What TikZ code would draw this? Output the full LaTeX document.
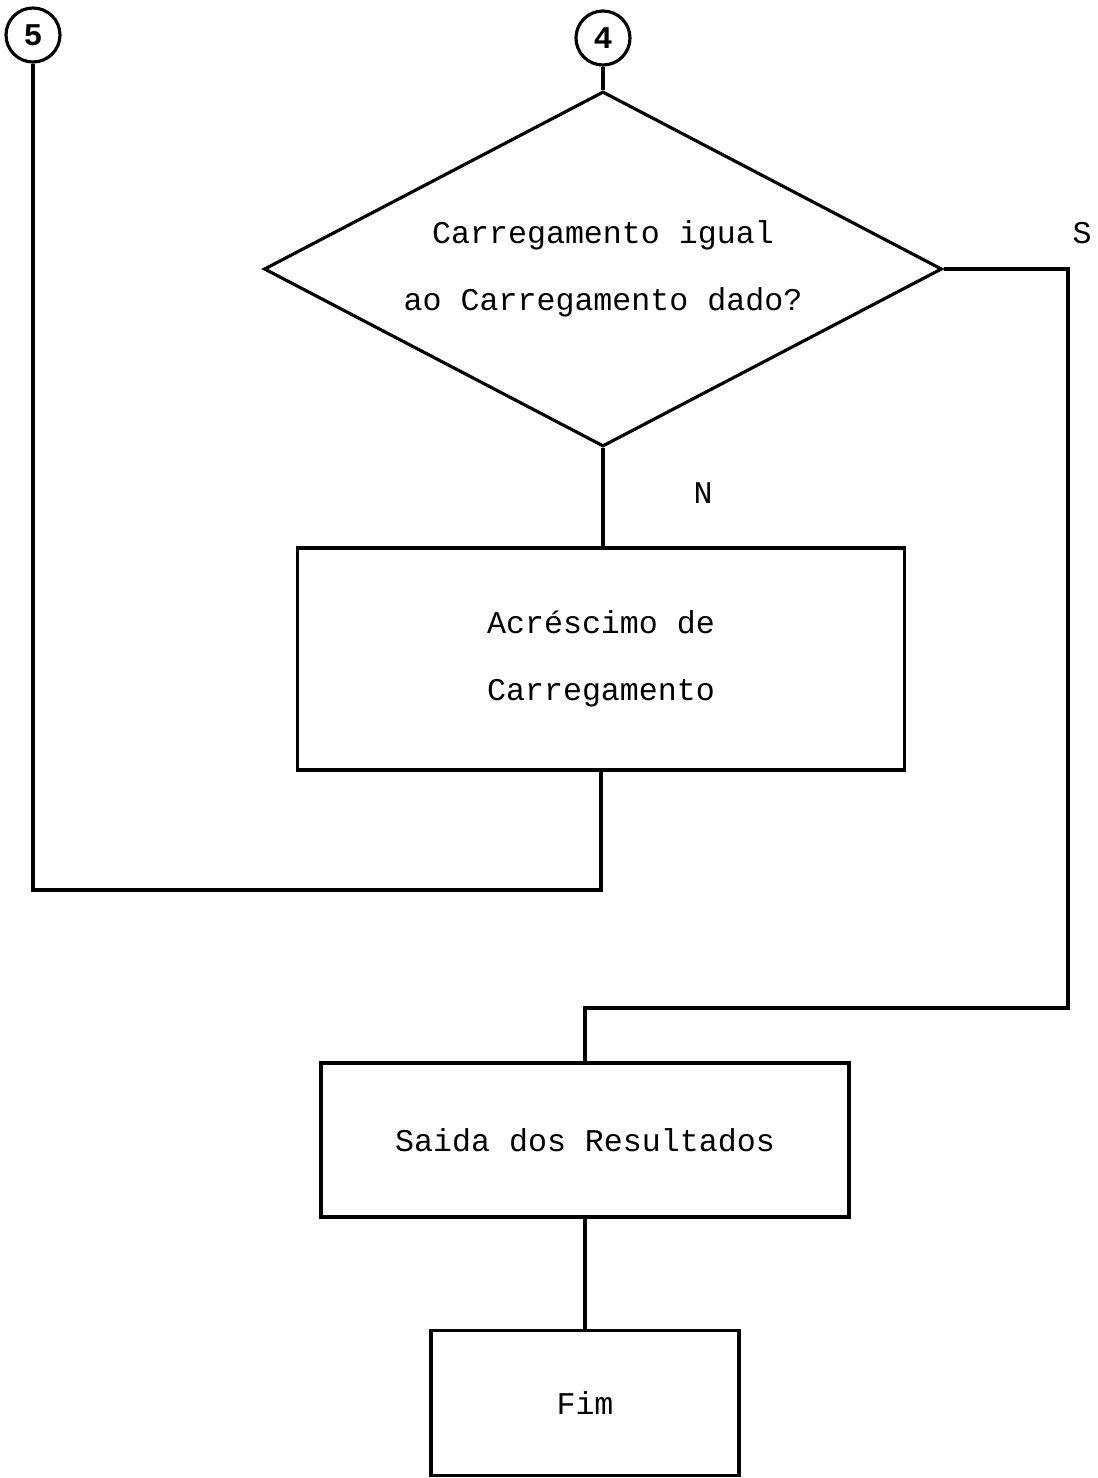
\documentclass[tikz,border=0pt]{standalone}
\usepackage{fontspec}
\setmonofont{Liberation Mono}
\usetikzlibrary{shapes.geometric,positioning}

\begin{document}
\begin{tikzpicture}[line width=0.9pt,
    every node/.style={font=\ttfamily\fontsize{9}{19}\selectfont},
    conn/.style={circle,draw,inner sep=0pt,minimum size=0.54cm,font=\ttfamily\bfseries\fontsize{9}{11}\selectfont},
    decision/.style={diamond,draw,inner sep=0pt,shape aspect=1.91,minimum width=6.78cm,minimum height=3.55cm,align=center},
    process/.style={rectangle,draw,inner sep=0pt,align=center}]
    \useasboundingbox (0,0) rectangle (10.98,-14.78);
    \node [conn] (c5) at (0.33,-0.35) {5};
    \node [conn] (c4) at (6.03,-0.38) {4};
    \node [decision] (dec) at (6.03,-2.69) {Carregamento igual\\ao Carregamento dado?};
    \node [process,minimum width=6.07cm,minimum height=2.22cm] (acres) at (6.01,-6.59) {Acréscimo de\\Carregamento};
    \node [process,minimum width=5.28cm,minimum height=1.54cm] (saida) at (5.85,-11.40) {Saida dos Resultados};
    \node [process,minimum width=3.08cm,minimum height=1.45cm] (fim) at (5.85,-14.03) {Fim};
    \coordinate (volta) at (0.33,-8.90);
    \coordinate (sim) at (10.68,-10.08);
    \node at (10.82,-2.33) {S};
    \node at (7.03,-4.93) {N};
    \draw (c4) -- (dec.north);
    \draw (dec.south) -- (dec.south |- acres.north);
    \draw (acres.south) |- (volta) -- (c5);
    \draw (dec.east) -| (sim) -| (saida.north);
    \draw (saida) -- (fim);
\end{tikzpicture}
\end{document}
